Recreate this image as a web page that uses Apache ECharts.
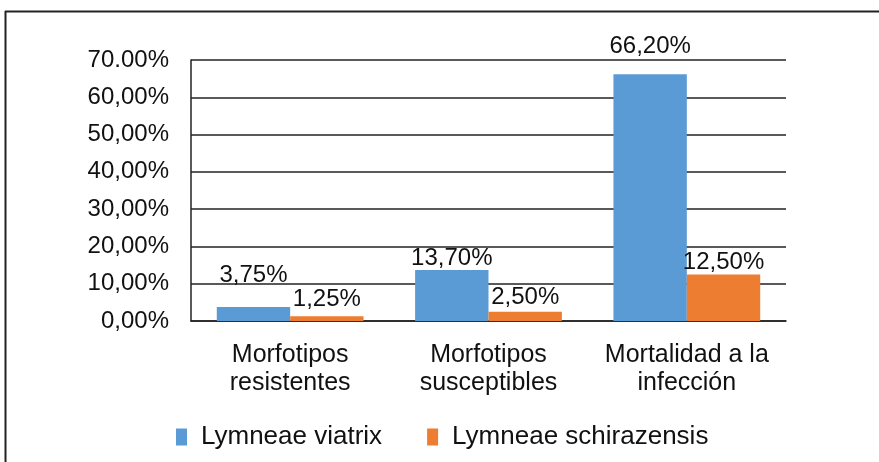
<!DOCTYPE html>
<html>
<head>
<meta charset="utf-8">
<script src="https://cdn.jsdelivr.net/npm/echarts@6/dist/echarts.min.js"></script>
<style>
  html, body { margin: 0; padding: 0; background: #fff; }
  #chart { width: 879px; height: 462px; }
</style>
</head>
<body>
<div id="chart"></div>
<script>
var categories = ['Morfotipos\nresistentes', 'Morfotipos\nsusceptibles', 'Mortalidad a la\ninfección'];
var seriesNames = ['Lymneae viatrix', 'Lymneae schirazensis'];
var viatrix = [3.75, 13.70, 66.20];
var schirazensis = [1.25, 2.50, 12.50];
var yTickLabels = ['0,00%', '10,00%', '20,00%', '30,00%', '40,00%', '50,00%', '60,00%', '70.00%'];

// how far each data label sits above its bar (the original labels were nudged by hand)
var labelGapBlue = [20, 0, 16];
var labelGapOrange = [5, 2, 0];

var colorBlue = '#5B9BD5';
var colorOrange = '#ED7D31';
var font = 'Liberation Sans, Arial, sans-serif';

function pct(v) {
    return v.toFixed(2).replace('.', ',') + '%';
}

function barData(values, gaps) {
    var out = [];
    for (var i = 0; i < values.length; i++) {
        out.push({ value: values[i], label: { distance: gaps[i] } });
    }
    return out;
}

var labelStyle = {
    show: true, position: 'top', fontSize: 24, color: '#111', fontFamily: font,
    formatter: function (p) { return pct(p.value); }
};

var chart = echarts.init(document.getElementById('chart'));
var option = {
    backgroundColor: '#fff',
    animation: false,
    textStyle: { fontFamily: font },
    graphic: [
        { type: 'line', shape: { x1: 5, y1: 11.5, x2: 879, y2: 11.5 }, style: { stroke: '#222', lineWidth: 2 } },
        { type: 'line', shape: { x1: 5.5, y1: 11, x2: 5.5, y2: 462 }, style: { stroke: '#222', lineWidth: 2 } }
    ],
    grid: { left: 191, right: 93, top: 60, bottom: 141, containLabel: false },
    legend: {
        top: 424,
        left: 176,
        padding: 0,
        itemWidth: 11,
        itemHeight: 17,
        itemGap: 45,
        icon: 'rect',
        textStyle: { fontSize: 26, color: '#111', fontFamily: font, padding: [0, 0, 0, 9] },
        data: seriesNames
    },
    xAxis: {
        type: 'category',
        data: categories,
        axisLine: { lineStyle: { color: '#222', width: 1.5 } },
        axisTick: { show: false },
        axisLabel: { fontSize: 25, color: '#111', lineHeight: 28, margin: 20, interval: 0, fontFamily: font }
    },
    yAxis: {
        type: 'value',
        min: 0,
        max: 70,
        interval: 10,
        axisLine: { show: true, lineStyle: { color: '#222', width: 1.5 } },
        axisTick: { show: false },
        splitLine: { lineStyle: { color: '#222', width: 1.5 } },
        axisLabel: {
            fontSize: 24, color: '#111', margin: 22, fontFamily: font,
            formatter: function (v) { return yTickLabels[Math.round(v / 10)]; }
        }
    },
    series: [
        {
            name: seriesNames[0], type: 'bar', data: barData(viatrix, labelGapBlue),
            barCategoryGap: '26%', barGap: '0%',
            itemStyle: { color: colorBlue },
            label: labelStyle
        },
        {
            name: seriesNames[1], type: 'bar', data: barData(schirazensis, labelGapOrange),
            barCategoryGap: '26%', barGap: '0%',
            itemStyle: { color: colorOrange },
            label: labelStyle
        }
    ]
};
chart.setOption(option);
</script>
</body>
</html>
